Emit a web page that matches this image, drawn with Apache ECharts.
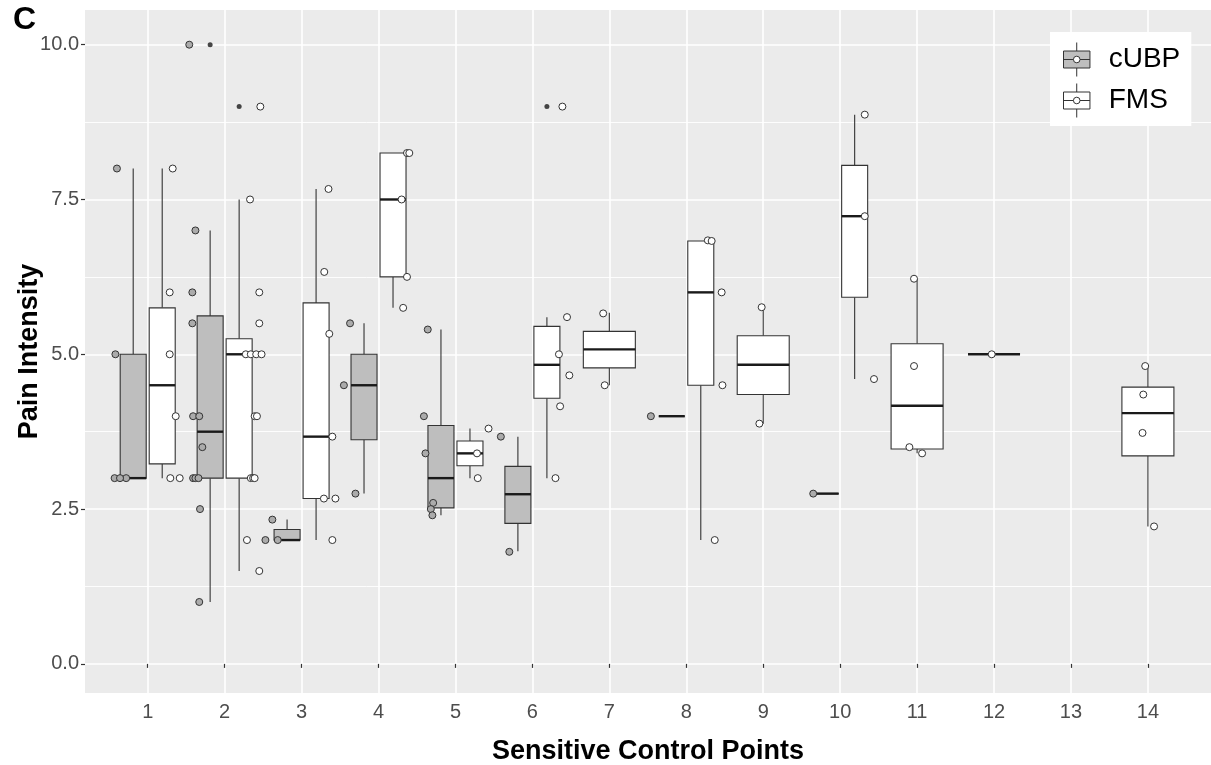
<!DOCTYPE html>
<html>
<head>
<meta charset="utf-8">
<script src="https://cdn.jsdelivr.net/npm/echarts@6/dist/echarts.min.js"></script>
<style>
html,body{margin:0;padding:0;background:#fff;}
#chart{width:1211px;height:765px;}
</style>
</head>
<body>
<div id="chart"></div>
<script>
// ---------- data ----------
const categories = [1,2,3,4,5,6,7,8,9,10,11,12,13,14];
const yTicks = [0, 2.5, 5, 7.5, 10];
const yMinorTicks = [1.25, 3.75, 6.25, 8.75];
const groups = ['cUBP', 'FMS'];

// box statistics per category: [lowWhisker, Q1, median, Q3, highWhisker], null = no box
const boxCUBP = [
  [3.0, 3.0, 3.0, 5.0, 8.0],
  [1.0, 3.0, 3.75, 5.62, 7.0],
  [2.0, 2.0, 2.0, 2.17, 2.33],
  [2.75, 3.62, 4.5, 5.0, 5.5],
  [2.4, 2.52, 3.0, 3.85, 5.4],
  [1.82, 2.27, 2.74, 3.19, 3.67],
  null,
  [4.0, 4.0, 4.0, 4.0, 4.0],
  null,
  [2.75, 2.75, 2.75, 2.75, 2.75],
  null, null, null, null
];
const boxFMS = [
  [3.0, 3.23, 4.5, 5.75, 8.0],
  [1.5, 3.0, 5.0, 5.25, 7.5],
  [2.0, 2.67, 3.67, 5.83, 7.67],
  [5.75, 6.25, 7.5, 8.25, 8.25],
  [3.0, 3.2, 3.4, 3.6, 3.8],
  [3.0, 4.29, 4.83, 5.45, 5.6],
  [4.5, 4.78, 5.08, 5.37, 5.67],
  [2.0, 4.5, 6.0, 6.83, 6.83],
  [3.88, 4.35, 4.83, 5.3, 5.77],
  [4.6, 5.92, 7.23, 8.05, 8.87],
  [3.4, 3.47, 4.17, 5.17, 6.22],
  [5.0, 5.0, 5.0, 5.0, 5.0],
  null,
  [2.22, 3.36, 4.05, 4.47, 4.81]
];

// boxplot outliers: [category, value]
const outCUBP = [[2, 10.0]];
const outFMS = [[2, 9.0], [6, 9.0]];

// jittered observations: [category, value, jitter (category units)]
const ptsCUBP = [
  [1,8.0,-0.40],[1,5.0,-0.42],[1,3.0,-0.43],[1,3.0,-0.28],[1,3.0,-0.36],
  [2,10.0,-0.46],[2,7.0,-0.38],[2,6.0,-0.42],[2,5.5,-0.42],[2,4.0,-0.41],[2,4.0,-0.33],[2,3.5,-0.29],
  [2,3.0,-0.41],[2,3.0,-0.38],[2,3.0,-0.34],[2,2.5,-0.32],[2,1.0,-0.33],
  [3,2.0,-0.47],[3,2.33,-0.38],[3,2.0,-0.31],
  [4,5.5,-0.37],[4,4.5,-0.45],[4,2.75,-0.30],
  [5,5.4,-0.36],[5,4.0,-0.41],[5,3.4,-0.39],[5,2.6,-0.29],[5,2.5,-0.32],[5,2.4,-0.30],
  [6,3.67,-0.41],[6,1.81,-0.30],
  [8,4.0,-0.46],
  [10,2.75,-0.35]
];
const ptsFMS = [
  [1,8.0,0.325],[1,6.0,0.286],[1,5.0,0.286],[1,4.0,0.364],[1,3.0,0.294],[1,3.0,0.416],
  [2,9.0,0.464],[2,7.5,0.33],[2,6.0,0.45],[2,5.5,0.45],[2,5.0,0.275],[2,5.0,0.34],[2,5.0,0.41],[2,5.0,0.48],
  [2,4.0,0.39],[2,4.0,0.42],[2,3.0,0.34],[2,3.0,0.37],[2,3.0,0.39],[2,2.0,0.29],[2,1.5,0.45],
  [3,7.67,0.35],[3,6.33,0.295],[3,5.33,0.36],[3,3.67,0.40],[3,2.67,0.29],[3,2.67,0.44],[3,2.0,0.40],
  [4,8.25,0.37],[4,8.25,0.40],[4,7.5,0.30],[4,6.25,0.37],[4,5.75,0.32],
  [5,3.4,0.28],[5,3.8,0.43],[5,3.0,0.29],
  [6,9.0,0.39],[6,5.6,0.45],[6,5.0,0.345],[6,4.66,0.48],[6,4.16,0.36],[6,3.0,0.30],
  [7,5.66,-0.08],[7,4.5,-0.06],
  [8,6.84,0.28],[8,6.83,0.33],[8,6.0,0.46],[8,4.5,0.47],[8,2.0,0.37],
  [9,5.76,-0.02],[9,3.88,-0.05],
  [10,8.87,0.32],[10,7.23,0.32],[10,4.6,0.44],
  [11,6.22,-0.04],[11,4.81,-0.04],[11,3.5,-0.10],[11,3.4,0.065],
  [12,5.0,-0.03],
  [14,4.81,-0.035],[14,4.35,-0.06],[14,3.73,-0.07],[14,2.22,0.08]
];

// ---------- layout helpers (dodge like ggplot) ----------
const DODGE = 0.1885, HALF_W = 0.338, FULL_W = 0.676;
function boxData(own, other, sign) {
  const out = [];
  categories.forEach((c, i) => {
    const s = own[i];
    if (!s) return;
    const paired = !!other[i];
    const pos = paired ? c + sign * DODGE : c;
    const w = paired ? HALF_W : FULL_W;
    out.push([pos, w].concat(s));
  });
  return out;
}
function boxPos(cat, own, other, sign) {
  const i = categories.indexOf(cat);
  return other[i] ? cat + sign * DODGE : cat;
}

const FONT = 'Liberation Sans, Arial, sans-serif';
const FILL = { cUBP: '#BEBEBE', FMS: '#FFFFFF' };
const PTFILL = { cUBP: '#ABABAB', FMS: '#FFFFFF' };
const EDGE = '#333333';

function boxSeries(name, data) {
  return {
    type: 'custom', name: name, data: data, z: 2,
    encode: { x: 0, y: [2, 3, 4, 5, 6] },
    renderItem: function (params, api) {
      const pos = api.value(0), w = api.value(1);
      const lo = api.value(2), q1 = api.value(3), md = api.value(4), q3 = api.value(5), hi = api.value(6);
      const left = api.coord([pos - w / 2, q3]);
      const right = api.coord([pos + w / 2, q1]);
      const cx = api.coord([pos, md]);
      const yHi = api.coord([pos, hi])[1], yLo = api.coord([pos, lo])[1];
      const lineStyle = { stroke: EDGE, lineWidth: 1.1 };
      return {
        type: 'group',
        children: [
          { type: 'line', shape: { x1: cx[0], y1: yHi, x2: cx[0], y2: left[1] }, style: lineStyle },
          { type: 'line', shape: { x1: cx[0], y1: right[1], x2: cx[0], y2: yLo }, style: lineStyle },
          { type: 'rect', shape: { x: left[0], y: left[1], width: right[0] - left[0], height: right[1] - left[1] },
            style: { fill: FILL[name], stroke: EDGE, lineWidth: 1.1 } },
          { type: 'line', shape: { x1: left[0], y1: cx[1], x2: right[0], y2: cx[1] },
            style: { stroke: '#1A1A1A', lineWidth: 2.4 } }
        ]
      };
    }
  };
}
function pointSeries(name, pts) {
  return {
    type: 'scatter', name: name, z: 4, symbolSize: 7,
    data: pts.map(p => [p[0] + p[2], p[1]]),
    itemStyle: { color: PTFILL[name], borderColor: EDGE, borderWidth: 1, opacity: 1 },
    emphasis: { disabled: true }
  };
}
function outlierSeries(name, pts, own, other, sign) {
  return {
    type: 'scatter', name: name, z: 3, symbolSize: 5,
    data: pts.map(p => [boxPos(p[0], own, other, sign), p[1]]),
    itemStyle: { color: '#1A1A1A' },
    emphasis: { disabled: true }
  };
}

const legendIcon = 'path://M15,0 L15,9 M1,9 L29,9 L29,27 L1,27 Z M1,18 L11.5,18 M18.5,18 L29,18 M15,27 L15,36 M11.5,18 A3.5,3.5 0 1,0 18.5,18 A3.5,3.5 0 1,0 11.5,18 Z';

const chart = echarts.init(document.getElementById('chart'), null, { renderer: 'canvas' });
chart.setOption({
  animation: false,
  backgroundColor: '#FFFFFF',
  title: {
    text: 'C', left: 8, top: -1,
    textStyle: { fontFamily: FONT, fontWeight: 'bold', fontSize: 32, color: '#000' }
  },
  grid: {
    left: 85, right: 0, top: 10, bottom: 72, show: true,
    backgroundColor: '#EBEBEB', borderWidth: 0, containLabel: false,
    outerBoundsMode: 'none'
  },
  legend: {
    orient: 'vertical', left: 1050, top: 32,
    backgroundColor: '#FFFFFF', padding: [10, 11, 8, 13], itemGap: 6,
    itemWidth: 30, itemHeight: 34,
    selectedMode: false,
    textStyle: { fontFamily: FONT, fontSize: 28, color: '#000', padding: [0, 0, 0, 12] },
    data: [
      { name: 'cUBP', icon: legendIcon, itemStyle: { color: FILL.cUBP, borderColor: EDGE, borderWidth: 1 } },
      { name: 'FMS', icon: legendIcon, itemStyle: { color: FILL.FMS, borderColor: EDGE, borderWidth: 1 } }
    ]
  },
  xAxis: {
    type: 'value', min: 0.185, max: 14.82,
    minInterval: 1, maxInterval: 1,
    name: 'Sensitive Control Points', nameLocation: 'middle', nameGap: 45, nameMoveOverlap: false,
    nameTextStyle: { fontFamily: FONT, fontWeight: 'bold', fontSize: 27, color: '#000' },
    axisLine: { show: false },
    axisTick: { show: true, length: 4, lineStyle: { color: '#333', width: 1.2 }, customValues: categories },
    axisLabel: {
      customValues: categories, margin: 9, color: '#4D4D4D', fontSize: 20, fontFamily: FONT,
      formatter: v => String(Math.round(v))
    },
    splitLine: { show: true, lineStyle: { color: '#FFFFFF', width: 1.6 } }
  },
  yAxis: [
    {
      type: 'value', min: -0.47, max: 10.56,
      minInterval: 2.5, maxInterval: 2.5,
      name: 'Pain Intensity', nameLocation: 'middle', nameGap: 42, nameRotate: 90, nameMoveOverlap: false,
      nameTextStyle: { fontFamily: FONT, fontWeight: 'bold', fontSize: 27, color: '#000' },
      axisLine: { show: false },
      axisTick: { show: true, length: 4, lineStyle: { color: '#333', width: 1.2 }, customValues: yTicks },
      axisLabel: {
        customValues: yTicks, margin: 6, color: '#4D4D4D', fontSize: 20, fontFamily: FONT,
        formatter: v => v.toFixed(1)
      },
      splitLine: { show: true, lineStyle: { color: '#FFFFFF', width: 1.6 } }
    },
    {
      type: 'value', min: -0.47, max: 10.56, position: 'left',
      axisLine: { show: false },
      axisTick: { show: false, customValues: yMinorTicks },
      axisLabel: { show: false, customValues: yMinorTicks },
      splitLine: { show: true, lineStyle: { color: '#FFFFFF', width: 0.9 } }
    }
  ],
  series: [
    boxSeries('cUBP', boxData(boxCUBP, boxFMS, -1)),
    boxSeries('FMS', boxData(boxFMS, boxCUBP, 1)),
    outlierSeries('cUBP', outCUBP, boxCUBP, boxFMS, -1),
    outlierSeries('FMS', outFMS, boxFMS, boxCUBP, 1),
    pointSeries('cUBP', ptsCUBP),
    pointSeries('FMS', ptsFMS)
  ]
});
</script>
</body>
</html>
